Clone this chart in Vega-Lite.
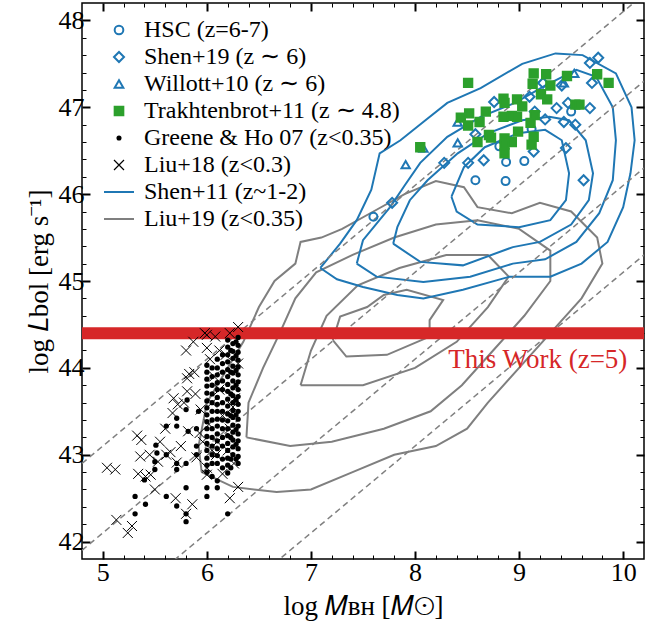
{
"$schema":"https://vega.github.io/schema/vega-lite/v6.json",
"width":562,"height":556,
"autosize":{"type":"none"},
"padding":{"left":82,"top":3,"right":24,"bottom":74},
"background":"white",
"config":{
 "view":{"stroke":"black","strokeWidth":1.5},
 "axis":{"labelFont":"Liberation Serif","labelFontSize":26,"labelColor":"black","titleFont":"Liberation Serif","titleFontSize":27,"titleFontWeight":"normal","titleColor":"black","grid":false,"domain":false,"tickColor":"black"},
 "legend":{"orient":"none","legendX":25,"legendY":15,"labelFont":"Liberation Serif","labelFontSize":24,"labelColor":"black","symbolStrokeWidth":2,"rowPadding":3,"labelOffset":13,"labelLimit":400}
},
"datasets":{
 "pts":[
  {"s":"Greene & Ho 07 (z<0.35)","M":5.31,"L":42.52},{"s":"Greene & Ho 07 (z<0.35)","M":5.31,"L":42.32},{"s":"Greene & Ho 07 (z<0.35)","M":5.41,"L":42.43},{"s":"Greene & Ho 07 (z<0.35)","M":5.4,"L":42.71},{"s":"Greene & Ho 07 (z<0.35)","M":5.5,"L":42.83},{"s":"Greene & Ho 07 (z<0.35)","M":5.51,"L":43.11},{"s":"Greene & Ho 07 (z<0.35)","M":5.52,"L":43.02},{"s":"Greene & Ho 07 (z<0.35)","M":5.5,"L":42.92},{"s":"Greene & Ho 07 (z<0.35)","M":5.61,"L":43.33},{"s":"Greene & Ho 07 (z<0.35)","M":5.61,"L":42.52},{"s":"Greene & Ho 07 (z<0.35)","M":5.71,"L":43.33},{"s":"Greene & Ho 07 (z<0.35)","M":5.71,"L":43.42},{"s":"Greene & Ho 07 (z<0.35)","M":5.71,"L":42.41},{"s":"Greene & Ho 07 (z<0.35)","M":5.8,"L":42.62},{"s":"Greene & Ho 07 (z<0.35)","M":5.8,"L":42.32},{"s":"Greene & Ho 07 (z<0.35)","M":5.8,"L":42.23},{"s":"Greene & Ho 07 (z<0.35)","M":5.71,"L":42.83},{"s":"Greene & Ho 07 (z<0.35)","M":5.81,"L":43.63},{"s":"Greene & Ho 07 (z<0.35)","M":5.8,"L":43.52},{"s":"Greene & Ho 07 (z<0.35)","M":5.82,"L":43.27},{"s":"Greene & Ho 07 (z<0.35)","M":5.8,"L":42.9},{"s":"Greene & Ho 07 (z<0.35)","M":5.9,"L":43.1},{"s":"Greene & Ho 07 (z<0.35)","M":5.9,"L":43.0},{"s":"Greene & Ho 07 (z<0.35)","M":5.9,"L":43.3},{"s":"Greene & Ho 07 (z<0.35)","M":5.92,"L":43.5},{"s":"Greene & Ho 07 (z<0.35)","M":5.61,"L":43.0},{"s":"Greene & Ho 07 (z<0.35)","M":5.71,"L":42.9},
  {"s":"Greene & Ho 07 (z<0.35)","M":6.0,"L":44.03},{"s":"Greene & Ho 07 (z<0.35)","M":6.0,"L":43.95},{"s":"Greene & Ho 07 (z<0.35)","M":6.0,"L":43.87},{"s":"Greene & Ho 07 (z<0.35)","M":6.0,"L":43.79},{"s":"Greene & Ho 07 (z<0.35)","M":6.0,"L":43.71},{"s":"Greene & Ho 07 (z<0.35)","M":6.0,"L":43.62},{"s":"Greene & Ho 07 (z<0.35)","M":6.0,"L":43.54},{"s":"Greene & Ho 07 (z<0.35)","M":6.0,"L":43.46},{"s":"Greene & Ho 07 (z<0.35)","M":6.0,"L":43.38},{"s":"Greene & Ho 07 (z<0.35)","M":6.0,"L":43.3},{"s":"Greene & Ho 07 (z<0.35)","M":6.0,"L":43.21},{"s":"Greene & Ho 07 (z<0.35)","M":6.0,"L":43.13},{"s":"Greene & Ho 07 (z<0.35)","M":6.0,"L":43.05},{"s":"Greene & Ho 07 (z<0.35)","M":6.0,"L":42.96},{"s":"Greene & Ho 07 (z<0.35)","M":6.0,"L":42.88},{"s":"Greene & Ho 07 (z<0.35)","M":6.0,"L":42.8},{"s":"Greene & Ho 07 (z<0.35)","M":6.0,"L":42.62},{"s":"Greene & Ho 07 (z<0.35)","M":6.0,"L":42.52},
  {"s":"Greene & Ho 07 (z<0.35)","M":6.05,"L":44.0},{"s":"Greene & Ho 07 (z<0.35)","M":6.05,"L":43.9},{"s":"Greene & Ho 07 (z<0.35)","M":6.05,"L":43.8},{"s":"Greene & Ho 07 (z<0.35)","M":6.05,"L":43.7},{"s":"Greene & Ho 07 (z<0.35)","M":6.05,"L":43.6},{"s":"Greene & Ho 07 (z<0.35)","M":6.05,"L":43.5},{"s":"Greene & Ho 07 (z<0.35)","M":6.05,"L":43.4},{"s":"Greene & Ho 07 (z<0.35)","M":6.05,"L":43.3},{"s":"Greene & Ho 07 (z<0.35)","M":6.05,"L":43.2},{"s":"Greene & Ho 07 (z<0.35)","M":6.05,"L":43.1},{"s":"Greene & Ho 07 (z<0.35)","M":6.05,"L":43.0},{"s":"Greene & Ho 07 (z<0.35)","M":6.05,"L":42.9},{"s":"Greene & Ho 07 (z<0.35)","M":6.05,"L":42.75},
  {"s":"Greene & Ho 07 (z<0.35)","M":6.1,"L":44.1},{"s":"Greene & Ho 07 (z<0.35)","M":6.1,"L":44.0},{"s":"Greene & Ho 07 (z<0.35)","M":6.1,"L":43.92},{"s":"Greene & Ho 07 (z<0.35)","M":6.1,"L":43.83},{"s":"Greene & Ho 07 (z<0.35)","M":6.1,"L":43.75},{"s":"Greene & Ho 07 (z<0.35)","M":6.1,"L":43.66},{"s":"Greene & Ho 07 (z<0.35)","M":6.1,"L":43.58},{"s":"Greene & Ho 07 (z<0.35)","M":6.1,"L":43.5},{"s":"Greene & Ho 07 (z<0.35)","M":6.1,"L":43.41},{"s":"Greene & Ho 07 (z<0.35)","M":6.1,"L":43.33},{"s":"Greene & Ho 07 (z<0.35)","M":6.1,"L":43.24},{"s":"Greene & Ho 07 (z<0.35)","M":6.1,"L":43.16},{"s":"Greene & Ho 07 (z<0.35)","M":6.1,"L":43.07},{"s":"Greene & Ho 07 (z<0.35)","M":6.1,"L":42.99},{"s":"Greene & Ho 07 (z<0.35)","M":6.1,"L":42.9},{"s":"Greene & Ho 07 (z<0.35)","M":6.1,"L":42.7},{"s":"Greene & Ho 07 (z<0.35)","M":6.1,"L":42.62},
  {"s":"Greene & Ho 07 (z<0.35)","M":6.15,"L":44.15},{"s":"Greene & Ho 07 (z<0.35)","M":6.15,"L":44.05},{"s":"Greene & Ho 07 (z<0.35)","M":6.15,"L":43.95},{"s":"Greene & Ho 07 (z<0.35)","M":6.15,"L":43.85},{"s":"Greene & Ho 07 (z<0.35)","M":6.15,"L":43.75},{"s":"Greene & Ho 07 (z<0.35)","M":6.15,"L":43.6},{"s":"Greene & Ho 07 (z<0.35)","M":6.15,"L":43.5},{"s":"Greene & Ho 07 (z<0.35)","M":6.15,"L":43.4},{"s":"Greene & Ho 07 (z<0.35)","M":6.15,"L":43.3},{"s":"Greene & Ho 07 (z<0.35)","M":6.15,"L":43.2},{"s":"Greene & Ho 07 (z<0.35)","M":6.15,"L":43.1},{"s":"Greene & Ho 07 (z<0.35)","M":6.15,"L":42.95},{"s":"Greene & Ho 07 (z<0.35)","M":6.15,"L":42.85},
  {"s":"Greene & Ho 07 (z<0.35)","M":6.2,"L":44.32},{"s":"Greene & Ho 07 (z<0.35)","M":6.2,"L":44.24},{"s":"Greene & Ho 07 (z<0.35)","M":6.2,"L":44.15},{"s":"Greene & Ho 07 (z<0.35)","M":6.2,"L":44.07},{"s":"Greene & Ho 07 (z<0.35)","M":6.2,"L":43.98},{"s":"Greene & Ho 07 (z<0.35)","M":6.2,"L":43.9},{"s":"Greene & Ho 07 (z<0.35)","M":6.2,"L":43.81},{"s":"Greene & Ho 07 (z<0.35)","M":6.2,"L":43.73},{"s":"Greene & Ho 07 (z<0.35)","M":6.2,"L":43.64},{"s":"Greene & Ho 07 (z<0.35)","M":6.2,"L":43.56},{"s":"Greene & Ho 07 (z<0.35)","M":6.2,"L":43.47},{"s":"Greene & Ho 07 (z<0.35)","M":6.2,"L":43.39},{"s":"Greene & Ho 07 (z<0.35)","M":6.2,"L":43.3},{"s":"Greene & Ho 07 (z<0.35)","M":6.2,"L":43.22},{"s":"Greene & Ho 07 (z<0.35)","M":6.2,"L":43.13},{"s":"Greene & Ho 07 (z<0.35)","M":6.2,"L":43.05},{"s":"Greene & Ho 07 (z<0.35)","M":6.2,"L":42.96},{"s":"Greene & Ho 07 (z<0.35)","M":6.2,"L":42.88},{"s":"Greene & Ho 07 (z<0.35)","M":6.2,"L":42.79},{"s":"Greene & Ho 07 (z<0.35)","M":6.2,"L":42.32},
  {"s":"Greene & Ho 07 (z<0.35)","M":6.23,"L":44.2},{"s":"Greene & Ho 07 (z<0.35)","M":6.23,"L":43.95},{"s":"Greene & Ho 07 (z<0.35)","M":6.23,"L":43.7},{"s":"Greene & Ho 07 (z<0.35)","M":6.23,"L":43.45},{"s":"Greene & Ho 07 (z<0.35)","M":6.23,"L":43.2},{"s":"Greene & Ho 07 (z<0.35)","M":6.23,"L":42.95},{"s":"Greene & Ho 07 (z<0.35)","M":6.23,"L":42.85},
  {"s":"Greene & Ho 07 (z<0.35)","M":6.25,"L":44.28},{"s":"Greene & Ho 07 (z<0.35)","M":6.25,"L":44.19},{"s":"Greene & Ho 07 (z<0.35)","M":6.25,"L":44.11},{"s":"Greene & Ho 07 (z<0.35)","M":6.25,"L":44.02},{"s":"Greene & Ho 07 (z<0.35)","M":6.25,"L":43.94},{"s":"Greene & Ho 07 (z<0.35)","M":6.25,"L":43.85},{"s":"Greene & Ho 07 (z<0.35)","M":6.25,"L":43.77},{"s":"Greene & Ho 07 (z<0.35)","M":6.25,"L":43.68},{"s":"Greene & Ho 07 (z<0.35)","M":6.25,"L":43.6},{"s":"Greene & Ho 07 (z<0.35)","M":6.25,"L":43.51},{"s":"Greene & Ho 07 (z<0.35)","M":6.25,"L":43.43},{"s":"Greene & Ho 07 (z<0.35)","M":6.25,"L":43.34},{"s":"Greene & Ho 07 (z<0.35)","M":6.25,"L":43.26},{"s":"Greene & Ho 07 (z<0.35)","M":6.25,"L":43.17},{"s":"Greene & Ho 07 (z<0.35)","M":6.25,"L":43.09},{"s":"Greene & Ho 07 (z<0.35)","M":6.25,"L":43.0},
  {"s":"Greene & Ho 07 (z<0.35)","M":6.28,"L":44.3},{"s":"Greene & Ho 07 (z<0.35)","M":6.28,"L":44.14},{"s":"Greene & Ho 07 (z<0.35)","M":6.28,"L":43.97},{"s":"Greene & Ho 07 (z<0.35)","M":6.28,"L":43.8},{"s":"Greene & Ho 07 (z<0.35)","M":6.28,"L":43.63},{"s":"Greene & Ho 07 (z<0.35)","M":6.28,"L":43.46},{"s":"Greene & Ho 07 (z<0.35)","M":6.28,"L":43.29},{"s":"Greene & Ho 07 (z<0.35)","M":6.28,"L":43.12},{"s":"Greene & Ho 07 (z<0.35)","M":6.28,"L":42.95},
  {"s":"Greene & Ho 07 (z<0.35)","M":6.3,"L":44.35},{"s":"Greene & Ho 07 (z<0.35)","M":6.3,"L":44.26},{"s":"Greene & Ho 07 (z<0.35)","M":6.3,"L":44.18},{"s":"Greene & Ho 07 (z<0.35)","M":6.3,"L":44.09},{"s":"Greene & Ho 07 (z<0.35)","M":6.3,"L":44.01},{"s":"Greene & Ho 07 (z<0.35)","M":6.3,"L":43.92},{"s":"Greene & Ho 07 (z<0.35)","M":6.3,"L":43.84},{"s":"Greene & Ho 07 (z<0.35)","M":6.3,"L":43.75},{"s":"Greene & Ho 07 (z<0.35)","M":6.3,"L":43.67},{"s":"Greene & Ho 07 (z<0.35)","M":6.3,"L":43.58},{"s":"Greene & Ho 07 (z<0.35)","M":6.3,"L":43.5},{"s":"Greene & Ho 07 (z<0.35)","M":6.3,"L":43.41},{"s":"Greene & Ho 07 (z<0.35)","M":6.3,"L":43.33},{"s":"Greene & Ho 07 (z<0.35)","M":6.3,"L":43.24},{"s":"Greene & Ho 07 (z<0.35)","M":6.3,"L":43.16},{"s":"Greene & Ho 07 (z<0.35)","M":6.3,"L":43.07},{"s":"Greene & Ho 07 (z<0.35)","M":6.3,"L":42.98},{"s":"Greene & Ho 07 (z<0.35)","M":6.3,"L":42.9},
  {"s":"Liu+18 (z<0.3)","M":5.04,"L":42.85},{"s":"Liu+18 (z<0.3)","M":5.12,"L":42.83},{"s":"Liu+18 (z<0.3)","M":5.13,"L":42.25},{"s":"Liu+18 (z<0.3)","M":5.24,"L":42.1},{"s":"Liu+18 (z<0.3)","M":5.28,"L":42.18},{"s":"Liu+18 (z<0.3)","M":5.33,"L":43.22},{"s":"Liu+18 (z<0.3)","M":5.37,"L":43.17},{"s":"Liu+18 (z<0.3)","M":5.36,"L":42.98},{"s":"Liu+18 (z<0.3)","M":5.34,"L":42.78},{"s":"Liu+18 (z<0.3)","M":5.41,"L":42.75},{"s":"Liu+18 (z<0.3)","M":5.46,"L":42.77},{"s":"Liu+18 (z<0.3)","M":5.5,"L":42.6},{"s":"Liu+18 (z<0.3)","M":5.53,"L":42.92},{"s":"Liu+18 (z<0.3)","M":5.61,"L":43.0},{"s":"Liu+18 (z<0.3)","M":5.65,"L":43.03},{"s":"Liu+18 (z<0.3)","M":5.71,"L":42.91},{"s":"Liu+18 (z<0.3)","M":5.7,"L":42.5},{"s":"Liu+18 (z<0.3)","M":5.8,"L":42.32},{"s":"Liu+18 (z<0.3)","M":5.86,"L":42.43},{"s":"Liu+18 (z<0.3)","M":5.6,"L":43.3},{"s":"Liu+18 (z<0.3)","M":5.67,"L":43.48},{"s":"Liu+18 (z<0.3)","M":5.72,"L":43.58},{"s":"Liu+18 (z<0.3)","M":5.78,"L":43.6},{"s":"Liu+18 (z<0.3)","M":5.81,"L":43.88},{"s":"Liu+18 (z<0.3)","M":5.83,"L":43.93},{"s":"Liu+18 (z<0.3)","M":5.88,"L":43.95},{"s":"Liu+18 (z<0.3)","M":5.8,"L":44.2},{"s":"Liu+18 (z<0.3)","M":5.87,"L":44.3},{"s":"Liu+18 (z<0.3)","M":5.81,"L":43.73},{"s":"Liu+18 (z<0.3)","M":5.82,"L":43.27},{"s":"Liu+18 (z<0.3)","M":5.89,"L":43.7},{"s":"Liu+18 (z<0.3)","M":5.94,"L":43.52},{"s":"Liu+18 (z<0.3)","M":5.93,"L":43.25},{"s":"Liu+18 (z<0.3)","M":5.9,"L":42.97},{"s":"Liu+18 (z<0.3)","M":5.98,"L":44.4},{"s":"Liu+18 (z<0.3)","M":6.0,"L":44.38},{"s":"Liu+18 (z<0.3)","M":6.08,"L":44.36},{"s":"Liu+18 (z<0.3)","M":6.22,"L":44.4},{"s":"Liu+18 (z<0.3)","M":6.3,"L":44.47},{"s":"Liu+18 (z<0.3)","M":6.0,"L":44.23},{"s":"Liu+18 (z<0.3)","M":6.03,"L":44.1},{"s":"Liu+18 (z<0.3)","M":6.07,"L":43.9},{"s":"Liu+18 (z<0.3)","M":6.12,"L":43.75},{"s":"Liu+18 (z<0.3)","M":6.05,"L":43.6},{"s":"Liu+18 (z<0.3)","M":6.15,"L":43.45},{"s":"Liu+18 (z<0.3)","M":6.02,"L":43.35},{"s":"Liu+18 (z<0.3)","M":6.1,"L":43.15},{"s":"Liu+18 (z<0.3)","M":6.2,"L":43.05},{"s":"Liu+18 (z<0.3)","M":6.25,"L":43.55},{"s":"Liu+18 (z<0.3)","M":6.28,"L":43.8},{"s":"Liu+18 (z<0.3)","M":6.18,"L":44.15},{"s":"Liu+18 (z<0.3)","M":6.3,"L":44.05},{"s":"Liu+18 (z<0.3)","M":6.22,"L":43.3},{"s":"Liu+18 (z<0.3)","M":6.05,"L":43.05},{"s":"Liu+18 (z<0.3)","M":6.0,"L":42.85},{"s":"Liu+18 (z<0.3)","M":6.15,"L":42.78},{"s":"Liu+18 (z<0.3)","M":6.22,"L":42.5},{"s":"Liu+18 (z<0.3)","M":6.3,"L":42.63},{"s":"Liu+18 (z<0.3)","M":6.09,"L":43.0},{"s":"Liu+18 (z<0.3)","M":6.0,"L":42.77},{"s":"Liu+18 (z<0.3)","M":6.27,"L":43.65},{"s":"Liu+18 (z<0.3)","M":6.12,"L":44.2},{"s":"Liu+18 (z<0.3)","M":5.96,"L":43.15},{"s":"Liu+18 (z<0.3)","M":6.26,"L":42.9},{"s":"Liu+18 (z<0.3)","M":5.75,"L":43.1},{"s":"Liu+18 (z<0.3)","M":5.55,"L":43.15},{"s":"Liu+18 (z<0.3)","M":5.45,"L":43.0},{"s":"Liu+18 (z<0.3)","M":5.68,"L":43.65},
  {"s":"HSC (z=6-7)","M":8.875,"L":46.37},{"s":"HSC (z=6-7)","M":9.05,"L":46.38},{"s":"HSC (z=6-7)","M":8.58,"L":46.16},{"s":"HSC (z=6-7)","M":8.87,"L":46.15},{"s":"HSC (z=6-7)","M":8.81,"L":46.55},{"s":"HSC (z=6-7)","M":9.5,"L":46.95},{"s":"HSC (z=6-7)","M":9.12,"L":46.75},{"s":"HSC (z=6-7)","M":7.6,"L":45.74},
  {"s":"Shen+19 (z ∼ 6)","M":9.76,"L":47.57},{"s":"Shen+19 (z ∼ 6)","M":9.68,"L":47.51},{"s":"Shen+19 (z ∼ 6)","M":9.7,"L":47.28},{"s":"Shen+19 (z ∼ 6)","M":9.47,"L":47.05},{"s":"Shen+19 (z ∼ 6)","M":9.68,"L":46.99},{"s":"Shen+19 (z ∼ 6)","M":9.36,"L":46.99},{"s":"Shen+19 (z ∼ 6)","M":9.25,"L":46.86},{"s":"Shen+19 (z ∼ 6)","M":9.43,"L":46.83},{"s":"Shen+19 (z ∼ 6)","M":9.54,"L":46.8},{"s":"Shen+19 (z ∼ 6)","M":9.1,"L":47.12},{"s":"Shen+19 (z ∼ 6)","M":8.76,"L":47.06},{"s":"Shen+19 (z ∼ 6)","M":8.58,"L":46.69},{"s":"Shen+19 (z ∼ 6)","M":8.28,"L":46.36},{"s":"Shen+19 (z ∼ 6)","M":8.51,"L":46.36},{"s":"Shen+19 (z ∼ 6)","M":8.66,"L":46.39},{"s":"Shen+19 (z ∼ 6)","M":9.14,"L":46.49},{"s":"Shen+19 (z ∼ 6)","M":9.45,"L":46.53},{"s":"Shen+19 (z ∼ 6)","M":9.62,"L":46.16},{"s":"Shen+19 (z ∼ 6)","M":7.78,"L":45.9},{"s":"Shen+19 (z ∼ 6)","M":9.15,"L":46.95},{"s":"Shen+19 (z ∼ 6)","M":9.23,"L":47.28},{"s":"Shen+19 (z ∼ 6)","M":9.41,"L":47.25},
  {"s":"Willott+10 (z ∼ 6)","M":7.91,"L":46.34},{"s":"Willott+10 (z ∼ 6)","M":8.08,"L":46.53},{"s":"Willott+10 (z ∼ 6)","M":8.41,"L":46.59},{"s":"Willott+10 (z ∼ 6)","M":8.41,"L":46.83},{"s":"Willott+10 (z ∼ 6)","M":9.53,"L":47.39},{"s":"Willott+10 (z ∼ 6)","M":9.43,"L":47.28},
  {"s":"Trakhtenbrot+11 (z ∼ 4.8)","M":8.51,"L":47.28},{"s":"Trakhtenbrot+11 (z ∼ 4.8)","M":9.14,"L":47.39},{"s":"Trakhtenbrot+11 (z ∼ 4.8)","M":9.26,"L":47.38},{"s":"Trakhtenbrot+11 (z ∼ 4.8)","M":9.46,"L":47.36},{"s":"Trakhtenbrot+11 (z ∼ 4.8)","M":9.75,"L":47.38},{"s":"Trakhtenbrot+11 (z ∼ 4.8)","M":9.86,"L":47.28},{"s":"Trakhtenbrot+11 (z ∼ 4.8)","M":9.13,"L":47.27},{"s":"Trakhtenbrot+11 (z ∼ 4.8)","M":9.3,"L":47.25},{"s":"Trakhtenbrot+11 (z ∼ 4.8)","M":9.21,"L":47.15},{"s":"Trakhtenbrot+11 (z ∼ 4.8)","M":9.27,"L":47.09},{"s":"Trakhtenbrot+11 (z ∼ 4.8)","M":8.85,"L":47.1},{"s":"Trakhtenbrot+11 (z ∼ 4.8)","M":8.98,"L":47.09},{"s":"Trakhtenbrot+11 (z ∼ 4.8)","M":9.03,"L":47.01},{"s":"Trakhtenbrot+11 (z ∼ 4.8)","M":8.85,"L":46.89},{"s":"Trakhtenbrot+11 (z ∼ 4.8)","M":8.93,"L":46.9},{"s":"Trakhtenbrot+11 (z ∼ 4.8)","M":8.98,"L":46.89},{"s":"Trakhtenbrot+11 (z ∼ 4.8)","M":9.15,"L":46.91},{"s":"Trakhtenbrot+11 (z ∼ 4.8)","M":9.11,"L":46.82},{"s":"Trakhtenbrot+11 (z ∼ 4.8)","M":8.52,"L":46.93},{"s":"Trakhtenbrot+11 (z ∼ 4.8)","M":8.44,"L":46.88},{"s":"Trakhtenbrot+11 (z ∼ 4.8)","M":8.51,"L":46.79},{"s":"Trakhtenbrot+11 (z ∼ 4.8)","M":8.62,"L":46.83},{"s":"Trakhtenbrot+11 (z ∼ 4.8)","M":8.68,"L":46.95},{"s":"Trakhtenbrot+11 (z ∼ 4.8)","M":8.71,"L":46.68},{"s":"Trakhtenbrot+11 (z ∼ 4.8)","M":8.73,"L":46.65},{"s":"Trakhtenbrot+11 (z ∼ 4.8)","M":8.6,"L":46.6},{"s":"Trakhtenbrot+11 (z ∼ 4.8)","M":8.86,"L":46.64},{"s":"Trakhtenbrot+11 (z ∼ 4.8)","M":8.93,"L":46.6},{"s":"Trakhtenbrot+11 (z ∼ 4.8)","M":8.99,"L":46.72},{"s":"Trakhtenbrot+11 (z ∼ 4.8)","M":9.14,"L":46.66},{"s":"Trakhtenbrot+11 (z ∼ 4.8)","M":9.12,"L":46.57},{"s":"Trakhtenbrot+11 (z ∼ 4.8)","M":8.86,"L":46.47},{"s":"Trakhtenbrot+11 (z ∼ 4.8)","M":8.05,"L":46.54},{"s":"Trakhtenbrot+11 (z ∼ 4.8)","M":9.54,"L":47.03},{"s":"Trakhtenbrot+11 (z ∼ 4.8)","M":9.58,"L":47.03},{"s":"Trakhtenbrot+11 (z ∼ 4.8)","M":8.86,"L":47.05},{"s":"Trakhtenbrot+11 (z ∼ 4.8)","M":8.86,"L":46.57}
 ],
 "contours":[
  {"s":"Liu+19 (z<0.35)","c":"g1","o":0,"M":5.95,"L":42.8},{"s":"Liu+19 (z<0.35)","c":"g1","o":1,"M":5.92,"L":43.1},{"s":"Liu+19 (z<0.35)","c":"g1","o":2,"M":6.0,"L":43.6},{"s":"Liu+19 (z<0.35)","c":"g1","o":3,"M":6.2,"L":44.0},{"s":"Liu+19 (z<0.35)","c":"g1","o":4,"M":6.35,"L":44.3},{"s":"Liu+19 (z<0.35)","c":"g1","o":5,"M":6.5,"L":44.7},{"s":"Liu+19 (z<0.35)","c":"g1","o":6,"M":6.65,"L":45.0},{"s":"Liu+19 (z<0.35)","c":"g1","o":7,"M":6.85,"L":45.2},{"s":"Liu+19 (z<0.35)","c":"g1","o":8,"M":6.9,"L":45.45},{"s":"Liu+19 (z<0.35)","c":"g1","o":9,"M":7.1,"L":45.5},{"s":"Liu+19 (z<0.35)","c":"g1","o":10,"M":7.3,"L":45.6},{"s":"Liu+19 (z<0.35)","c":"g1","o":11,"M":7.6,"L":45.8},{"s":"Liu+19 (z<0.35)","c":"g1","o":12,"M":7.9,"L":46.0},{"s":"Liu+19 (z<0.35)","c":"g1","o":13,"M":8.2,"L":46.15},{"s":"Liu+19 (z<0.35)","c":"g1","o":14,"M":8.47,"L":46.08},{"s":"Liu+19 (z<0.35)","c":"g1","o":15,"M":8.6,"L":45.85},{"s":"Liu+19 (z<0.35)","c":"g1","o":16,"M":8.93,"L":45.78},{"s":"Liu+19 (z<0.35)","c":"g1","o":17,"M":9.2,"L":45.9},{"s":"Liu+19 (z<0.35)","c":"g1","o":18,"M":9.5,"L":45.8},{"s":"Liu+19 (z<0.35)","c":"g1","o":19,"M":9.75,"L":45.5},{"s":"Liu+19 (z<0.35)","c":"g1","o":20,"M":9.8,"L":45.2},{"s":"Liu+19 (z<0.35)","c":"g1","o":21,"M":9.6,"L":44.8},{"s":"Liu+19 (z<0.35)","c":"g1","o":22,"M":9.3,"L":44.4},{"s":"Liu+19 (z<0.35)","c":"g1","o":23,"M":9.0,"L":44.0},{"s":"Liu+19 (z<0.35)","c":"g1","o":24,"M":8.7,"L":43.6},{"s":"Liu+19 (z<0.35)","c":"g1","o":25,"M":8.5,"L":43.3},{"s":"Liu+19 (z<0.35)","c":"g1","o":26,"M":8.2,"L":43.1},{"s":"Liu+19 (z<0.35)","c":"g1","o":27,"M":7.8,"L":43.0},{"s":"Liu+19 (z<0.35)","c":"g1","o":28,"M":7.4,"L":42.8},{"s":"Liu+19 (z<0.35)","c":"g1","o":29,"M":7.0,"L":42.6},{"s":"Liu+19 (z<0.35)","c":"g1","o":30,"M":6.67,"L":42.57},{"s":"Liu+19 (z<0.35)","c":"g1","o":31,"M":6.25,"L":42.63},{"s":"Liu+19 (z<0.35)","c":"g1","o":32,"M":5.95,"L":42.8},
  {"s":"Liu+19 (z<0.35)","c":"g2","o":0,"M":6.38,"L":43.2},{"s":"Liu+19 (z<0.35)","c":"g2","o":1,"M":6.4,"L":43.6},{"s":"Liu+19 (z<0.35)","c":"g2","o":2,"M":6.54,"L":44.0},{"s":"Liu+19 (z<0.35)","c":"g2","o":3,"M":6.7,"L":44.4},{"s":"Liu+19 (z<0.35)","c":"g2","o":4,"M":6.85,"L":44.8},{"s":"Liu+19 (z<0.35)","c":"g2","o":5,"M":7.05,"L":45.1},{"s":"Liu+19 (z<0.35)","c":"g2","o":6,"M":7.4,"L":45.3},{"s":"Liu+19 (z<0.35)","c":"g2","o":7,"M":7.8,"L":45.5},{"s":"Liu+19 (z<0.35)","c":"g2","o":8,"M":8.2,"L":45.65},{"s":"Liu+19 (z<0.35)","c":"g2","o":9,"M":8.6,"L":45.7},{"s":"Liu+19 (z<0.35)","c":"g2","o":10,"M":9.0,"L":45.6},{"s":"Liu+19 (z<0.35)","c":"g2","o":11,"M":9.3,"L":45.35},{"s":"Liu+19 (z<0.35)","c":"g2","o":12,"M":9.3,"L":45.0},{"s":"Liu+19 (z<0.35)","c":"g2","o":13,"M":9.05,"L":44.6},{"s":"Liu+19 (z<0.35)","c":"g2","o":14,"M":8.75,"L":44.2},{"s":"Liu+19 (z<0.35)","c":"g2","o":15,"M":8.45,"L":43.8},{"s":"Liu+19 (z<0.35)","c":"g2","o":16,"M":8.15,"L":43.5},{"s":"Liu+19 (z<0.35)","c":"g2","o":17,"M":7.7,"L":43.3},{"s":"Liu+19 (z<0.35)","c":"g2","o":18,"M":7.2,"L":43.15},{"s":"Liu+19 (z<0.35)","c":"g2","o":19,"M":6.8,"L":43.1},{"s":"Liu+19 (z<0.35)","c":"g2","o":20,"M":6.38,"L":43.2},
  {"s":"Liu+19 (z<0.35)","c":"g3","o":0,"M":6.9,"L":43.8},{"s":"Liu+19 (z<0.35)","c":"g3","o":1,"M":7.0,"L":44.2},{"s":"Liu+19 (z<0.35)","c":"g3","o":2,"M":7.15,"L":44.6},{"s":"Liu+19 (z<0.35)","c":"g3","o":3,"M":7.45,"L":44.95},{"s":"Liu+19 (z<0.35)","c":"g3","o":4,"M":7.85,"L":45.15},{"s":"Liu+19 (z<0.35)","c":"g3","o":5,"M":8.3,"L":45.3},{"s":"Liu+19 (z<0.35)","c":"g3","o":6,"M":8.7,"L":45.3},{"s":"Liu+19 (z<0.35)","c":"g3","o":7,"M":8.9,"L":45.05},{"s":"Liu+19 (z<0.35)","c":"g3","o":8,"M":8.7,"L":44.7},{"s":"Liu+19 (z<0.35)","c":"g3","o":9,"M":8.4,"L":44.3},{"s":"Liu+19 (z<0.35)","c":"g3","o":10,"M":8.0,"L":44.0},{"s":"Liu+19 (z<0.35)","c":"g3","o":11,"M":7.5,"L":43.8},{"s":"Liu+19 (z<0.35)","c":"g3","o":12,"M":6.9,"L":43.8},
  {"s":"Liu+19 (z<0.35)","c":"g4","o":0,"M":7.21,"L":44.32},{"s":"Liu+19 (z<0.35)","c":"g4","o":1,"M":7.28,"L":44.59},{"s":"Liu+19 (z<0.35)","c":"g4","o":2,"M":7.54,"L":44.7},{"s":"Liu+19 (z<0.35)","c":"g4","o":3,"M":7.7,"L":44.84},{"s":"Liu+19 (z<0.35)","c":"g4","o":4,"M":7.92,"L":44.9},{"s":"Liu+19 (z<0.35)","c":"g4","o":5,"M":8.27,"L":44.78},{"s":"Liu+19 (z<0.35)","c":"g4","o":6,"M":8.14,"L":44.55},{"s":"Liu+19 (z<0.35)","c":"g4","o":7,"M":8.14,"L":44.36},{"s":"Liu+19 (z<0.35)","c":"g4","o":8,"M":7.73,"L":44.15},{"s":"Liu+19 (z<0.35)","c":"g4","o":9,"M":7.34,"L":44.13},{"s":"Liu+19 (z<0.35)","c":"g4","o":10,"M":7.21,"L":44.32},
  {"s":"Shen+11 (z~1-2)","c":"b1","o":0,"M":7.09,"L":45.15},{"s":"Shen+11 (z~1-2)","c":"b1","o":1,"M":7.28,"L":45.43},{"s":"Shen+11 (z~1-2)","c":"b1","o":2,"M":7.44,"L":45.7},{"s":"Shen+11 (z~1-2)","c":"b1","o":3,"M":7.58,"L":46.05},{"s":"Shen+11 (z~1-2)","c":"b1","o":4,"M":7.66,"L":46.47},{"s":"Shen+11 (z~1-2)","c":"b1","o":5,"M":7.86,"L":46.62},{"s":"Shen+11 (z~1-2)","c":"b1","o":6,"M":8.1,"L":46.85},{"s":"Shen+11 (z~1-2)","c":"b1","o":7,"M":8.31,"L":47.05},{"s":"Shen+11 (z~1-2)","c":"b1","o":8,"M":8.63,"L":47.22},{"s":"Shen+11 (z~1-2)","c":"b1","o":9,"M":9.03,"L":47.5},{"s":"Shen+11 (z~1-2)","c":"b1","o":10,"M":9.35,"L":47.62},{"s":"Shen+11 (z~1-2)","c":"b1","o":11,"M":9.61,"L":47.6},{"s":"Shen+11 (z~1-2)","c":"b1","o":12,"M":9.93,"L":47.39},{"s":"Shen+11 (z~1-2)","c":"b1","o":13,"M":10.08,"L":47.0},{"s":"Shen+11 (z~1-2)","c":"b1","o":14,"M":10.11,"L":46.62},{"s":"Shen+11 (z~1-2)","c":"b1","o":15,"M":10.07,"L":46.24},{"s":"Shen+11 (z~1-2)","c":"b1","o":16,"M":10.0,"L":45.85},{"s":"Shen+11 (z~1-2)","c":"b1","o":17,"M":9.85,"L":45.45},{"s":"Shen+11 (z~1-2)","c":"b1","o":18,"M":9.6,"L":45.2},{"s":"Shen+11 (z~1-2)","c":"b1","o":19,"M":9.3,"L":45.05},{"s":"Shen+11 (z~1-2)","c":"b1","o":20,"M":8.91,"L":45.05},{"s":"Shen+11 (z~1-2)","c":"b1","o":21,"M":8.46,"L":44.9},{"s":"Shen+11 (z~1-2)","c":"b1","o":22,"M":8.08,"L":44.8},{"s":"Shen+11 (z~1-2)","c":"b1","o":23,"M":7.83,"L":44.84},{"s":"Shen+11 (z~1-2)","c":"b1","o":24,"M":7.5,"L":44.93},{"s":"Shen+11 (z~1-2)","c":"b1","o":25,"M":7.25,"L":45.02},{"s":"Shen+11 (z~1-2)","c":"b1","o":26,"M":7.09,"L":45.15},
  {"s":"Shen+11 (z~1-2)","c":"b2","o":0,"M":7.44,"L":45.2},{"s":"Shen+11 (z~1-2)","c":"b2","o":1,"M":7.5,"L":45.47},{"s":"Shen+11 (z~1-2)","c":"b2","o":2,"M":7.76,"L":45.85},{"s":"Shen+11 (z~1-2)","c":"b2","o":3,"M":7.9,"L":46.1},{"s":"Shen+11 (z~1-2)","c":"b2","o":4,"M":8.05,"L":46.36},{"s":"Shen+11 (z~1-2)","c":"b2","o":5,"M":8.31,"L":46.66},{"s":"Shen+11 (z~1-2)","c":"b2","o":6,"M":8.63,"L":46.89},{"s":"Shen+11 (z~1-2)","c":"b2","o":7,"M":8.96,"L":47.05},{"s":"Shen+11 (z~1-2)","c":"b2","o":8,"M":9.25,"L":47.25},{"s":"Shen+11 (z~1-2)","c":"b2","o":9,"M":9.55,"L":47.43},{"s":"Shen+11 (z~1-2)","c":"b2","o":10,"M":9.74,"L":47.35},{"s":"Shen+11 (z~1-2)","c":"b2","o":11,"M":9.9,"L":47.0},{"s":"Shen+11 (z~1-2)","c":"b2","o":12,"M":9.93,"L":46.62},{"s":"Shen+11 (z~1-2)","c":"b2","o":13,"M":9.9,"L":46.16},{"s":"Shen+11 (z~1-2)","c":"b2","o":14,"M":9.77,"L":45.78},{"s":"Shen+11 (z~1-2)","c":"b2","o":15,"M":9.55,"L":45.45},{"s":"Shen+11 (z~1-2)","c":"b2","o":16,"M":9.25,"L":45.25},{"s":"Shen+11 (z~1-2)","c":"b2","o":17,"M":8.94,"L":45.2},{"s":"Shen+11 (z~1-2)","c":"b2","o":18,"M":8.53,"L":45.05},{"s":"Shen+11 (z~1-2)","c":"b2","o":19,"M":8.08,"L":44.99},{"s":"Shen+11 (z~1-2)","c":"b2","o":20,"M":7.63,"L":45.05},{"s":"Shen+11 (z~1-2)","c":"b2","o":21,"M":7.44,"L":45.2},
  {"s":"Shen+11 (z~1-2)","c":"b3","o":0,"M":7.79,"L":45.43},{"s":"Shen+11 (z~1-2)","c":"b3","o":1,"M":7.83,"L":45.62},{"s":"Shen+11 (z~1-2)","c":"b3","o":2,"M":7.95,"L":45.93},{"s":"Shen+11 (z~1-2)","c":"b3","o":3,"M":8.12,"L":46.16},{"s":"Shen+11 (z~1-2)","c":"b3","o":4,"M":8.41,"L":46.47},{"s":"Shen+11 (z~1-2)","c":"b3","o":5,"M":8.7,"L":46.7},{"s":"Shen+11 (z~1-2)","c":"b3","o":6,"M":9.03,"L":46.85},{"s":"Shen+11 (z~1-2)","c":"b3","o":7,"M":9.29,"L":46.89},{"s":"Shen+11 (z~1-2)","c":"b3","o":8,"M":9.48,"L":46.85},{"s":"Shen+11 (z~1-2)","c":"b3","o":9,"M":9.64,"L":46.62},{"s":"Shen+11 (z~1-2)","c":"b3","o":10,"M":9.71,"L":46.24},{"s":"Shen+11 (z~1-2)","c":"b3","o":11,"M":9.67,"L":45.93},{"s":"Shen+11 (z~1-2)","c":"b3","o":12,"M":9.5,"L":45.65},{"s":"Shen+11 (z~1-2)","c":"b3","o":13,"M":9.2,"L":45.45},{"s":"Shen+11 (z~1-2)","c":"b3","o":14,"M":8.94,"L":45.39},{"s":"Shen+11 (z~1-2)","c":"b3","o":15,"M":8.46,"L":45.18},{"s":"Shen+11 (z~1-2)","c":"b3","o":16,"M":8.05,"L":45.22},{"s":"Shen+11 (z~1-2)","c":"b3","o":17,"M":7.79,"L":45.43},
  {"s":"Shen+11 (z~1-2)","c":"b4","o":0,"M":8.35,"L":45.97},{"s":"Shen+11 (z~1-2)","c":"b4","o":1,"M":8.47,"L":46.31},{"s":"Shen+11 (z~1-2)","c":"b4","o":2,"M":8.67,"L":46.54},{"s":"Shen+11 (z~1-2)","c":"b4","o":3,"M":8.99,"L":46.7},{"s":"Shen+11 (z~1-2)","c":"b4","o":4,"M":9.25,"L":46.74},{"s":"Shen+11 (z~1-2)","c":"b4","o":5,"M":9.41,"L":46.62},{"s":"Shen+11 (z~1-2)","c":"b4","o":6,"M":9.48,"L":46.24},{"s":"Shen+11 (z~1-2)","c":"b4","o":7,"M":9.45,"L":45.93},{"s":"Shen+11 (z~1-2)","c":"b4","o":8,"M":9.3,"L":45.7},{"s":"Shen+11 (z~1-2)","c":"b4","o":9,"M":9.0,"L":45.62},{"s":"Shen+11 (z~1-2)","c":"b4","o":10,"M":8.6,"L":45.65},{"s":"Shen+11 (z~1-2)","c":"b4","o":11,"M":8.4,"L":45.8},{"s":"Shen+11 (z~1-2)","c":"b4","o":12,"M":8.35,"L":45.97}
 ],
 "edd":[
  {"g":"a","M":4.8,"L":42.9},{"g":"a","M":10.2,"L":48.3},
  {"g":"b","M":4.8,"L":41.9},{"g":"b","M":10.2,"L":47.3},
  {"g":"c","M":4.8,"L":40.9},{"g":"c","M":10.2,"L":46.3},
  {"g":"d","M":4.8,"L":39.9},{"g":"d","M":10.2,"L":45.3}
 ]
},
"resolve":{"axis":{"x":"independent","y":"independent"}},
"layer":[
 {"data":{"name":"contours"},"transform":[{"filter":"datum.s == 'Liu+19 (z<0.35)'"}],
  "mark":{"type":"line","strokeWidth":2,"clip":true},
  "encoding":{
   "x":{"field":"M","type":"quantitative","scale":{"domain":[4.8,10.2],"nice":false,"zero":false},
        "axis":{"orient":"bottom","title":"log 𝑀ʙʜ [𝑀⊙]","values":[5,6,7,8,9,10],"tickSize":-8,"tickWidth":2,"labelPadding":8,"titlePadding":8}},
   "y":{"field":"L","type":"quantitative","scale":{"domain":[41.8,48.2],"nice":false,"zero":false},
        "axis":{"orient":"left","title":"log 𝐿bol [erg s⁻¹]","values":[42,43,44,45,46,47,48],"tickSize":-8,"tickWidth":2,"labelPadding":6,"titlePadding":5}},
   "detail":{"field":"c"},
   "order":{"field":"o","type":"quantitative"},
   "stroke":{"field":"s","type":"nominal","title":null,
     "scale":{"domain":["HSC (z=6-7)","Shen+19 (z ∼ 6)","Willott+10 (z ∼ 6)","Trakhtenbrot+11 (z ∼ 4.8)","Greene & Ho 07 (z<0.35)","Liu+18 (z<0.3)","Shen+11 (z~1-2)","Liu+19 (z<0.35)"],
              "range":["#1f77b4","#1f77b4","#1f77b4","#2ca02c","black","black","#1f77b4","#7f7f7f"]},
     "legend":{"encode":{"symbols":{"update":{
        "size":{"signal":"datum.value == 'Shen+11 (z~1-2)' || datum.value == 'Liu+19 (z<0.35)' ? 900 : datum.value == 'Greene & Ho 07 (z<0.35)' ? 26 : datum.value == 'Shen+19 (z ∼ 6)' || datum.value == 'Liu+18 (z<0.3)' ? 100 : 75"},
        "strokeWidth":{"signal":"datum.value == 'Liu+18 (z<0.3)' ? 1.2 : datum.value == 'Greene & Ho 07 (z<0.35)' ? 0 : 2"}}}}}}
  }},
 {"data":{"name":"contours"},"transform":[{"filter":"datum.s == 'Shen+11 (z~1-2)'"}],
  "mark":{"type":"line","strokeWidth":2,"clip":true},
  "encoding":{
   "x":{"field":"M","type":"quantitative","axis":{"orient":"top","title":null,"labels":false,"values":[5,6,7,8,9,10],"tickSize":-8,"tickWidth":2}},
   "y":{"field":"L","type":"quantitative","axis":{"orient":"right","title":null,"labels":false,"values":[42,43,44,45,46,47,48],"tickSize":-8,"tickWidth":2}},
   "detail":{"field":"c"},
   "order":{"field":"o","type":"quantitative"},
   "stroke":{"field":"s","type":"nominal","title":null}
  }},
 {"data":{"name":"edd"},
  "mark":{"type":"line","strokeWidth":1.5,"strokeDash":[6,4],"color":"#808080","clip":true},
  "encoding":{
   "x":{"field":"M","type":"quantitative","axis":{"orient":"bottom","title":null,"labels":false,"values":[5.2,5.4,5.6,5.8,6.2,6.4,6.6,6.8,7.2,7.4,7.6,7.8,8.2,8.4,8.6,8.8,9.2,9.4,9.6,9.8],"tickSize":-4,"tickWidth":1}},
   "y":{"field":"L","type":"quantitative","axis":{"orient":"left","title":null,"labels":false,"values":[42.2,42.4,42.6,42.8,43.2,43.4,43.6,43.8,44.2,44.4,44.6,44.8,45.2,45.4,45.6,45.8,46.2,46.4,46.6,46.8,47.2,47.4,47.6,47.8],"tickSize":-4,"tickWidth":1}},
   "detail":{"field":"g"}
  }},
 {"data":{"values":[{"L":44.4}]},
  "mark":{"type":"rule","strokeWidth":12,"color":"#d62728"},
  "encoding":{
   "y":{"field":"L","type":"quantitative","axis":{"orient":"right","title":null,"labels":false,"values":[42.2,42.4,42.6,42.8,43.2,43.4,43.6,43.8,44.2,44.4,44.6,44.8,45.2,45.4,45.6,45.8,46.2,46.4,46.6,46.8,47.2,47.4,47.6,47.8],"tickSize":-4,"tickWidth":1}}
  }},
 {"data":{"values":[{"M":8.32,"L":44.09,"t":"This Work (z=5)"}]},
  "mark":{"type":"text","font":"Liberation Serif","fontSize":27,"color":"#d62728","align":"left","baseline":"middle"},
  "encoding":{
   "x":{"field":"M","type":"quantitative","axis":{"orient":"top","title":null,"labels":false,"values":[5.2,5.4,5.6,5.8,6.2,6.4,6.6,6.8,7.2,7.4,7.6,7.8,8.2,8.4,8.6,8.8,9.2,9.4,9.6,9.8],"tickSize":-4,"tickWidth":1}},
   "y":{"field":"L","type":"quantitative","axis":null},
   "text":{"field":"t"}
  }},
 {"data":{"name":"pts"},"transform":[{"filter":"datum.s == 'Greene & Ho 07 (z<0.35)'"}],
  "mark":{"type":"point","strokeWidth":0,"opacity":1,"size":28},
  "encoding":{
   "x":{"field":"M","type":"quantitative","axis":null},
   "y":{"field":"L","type":"quantitative","axis":null},
   "stroke":{"field":"s","type":"nominal","title":null},
   "fill":{"field":"s","type":"nominal","title":null,"scale":{"domain":["HSC (z=6-7)","Shen+19 (z ∼ 6)","Willott+10 (z ∼ 6)","Trakhtenbrot+11 (z ∼ 4.8)","Greene & Ho 07 (z<0.35)","Liu+18 (z<0.3)","Shen+11 (z~1-2)","Liu+19 (z<0.35)"],"range":["transparent","transparent","transparent","#2ca02c","black","transparent","transparent","transparent"]}},
   "shape":{"field":"s","type":"nominal","title":null,"scale":{"domain":["HSC (z=6-7)","Shen+19 (z ∼ 6)","Willott+10 (z ∼ 6)","Trakhtenbrot+11 (z ∼ 4.8)","Greene & Ho 07 (z<0.35)","Liu+18 (z<0.3)","Shen+11 (z~1-2)","Liu+19 (z<0.35)"],"range":["circle","diamond","triangle-up","square","circle","M-1,-1L1,1M1,-1L-1,1","stroke","stroke"]}}
  }},
 {"data":{"name":"pts"},"transform":[{"filter":"datum.s == 'Liu+18 (z<0.3)'"}],
  "mark":{"type":"point","strokeWidth":1,"opacity":1,"size":100},
  "encoding":{
   "x":{"field":"M","type":"quantitative","axis":null},
   "y":{"field":"L","type":"quantitative","axis":null},
   "stroke":{"field":"s","type":"nominal","title":null},
   "fill":{"field":"s","type":"nominal","title":null},
   "shape":{"field":"s","type":"nominal","title":null}
  }},
 {"data":{"name":"pts"},"transform":[{"filter":"datum.s == 'HSC (z=6-7)'"}],
  "mark":{"type":"point","strokeWidth":2,"opacity":1,"size":64},
  "encoding":{
   "x":{"field":"M","type":"quantitative","axis":null},
   "y":{"field":"L","type":"quantitative","axis":null},
   "stroke":{"field":"s","type":"nominal","title":null},
   "fill":{"field":"s","type":"nominal","title":null},
   "shape":{"field":"s","type":"nominal","title":null}
  }},
 {"data":{"name":"pts"},"transform":[{"filter":"datum.s == 'Shen+19 (z ∼ 6)'"}],
  "mark":{"type":"point","strokeWidth":2,"opacity":1,"size":100},
  "encoding":{
   "x":{"field":"M","type":"quantitative","axis":null},
   "y":{"field":"L","type":"quantitative","axis":null},
   "stroke":{"field":"s","type":"nominal","title":null},
   "fill":{"field":"s","type":"nominal","title":null},
   "shape":{"field":"s","type":"nominal","title":null}
  }},
 {"data":{"name":"pts"},"transform":[{"filter":"datum.s == 'Willott+10 (z ∼ 6)'"}],
  "mark":{"type":"point","strokeWidth":2,"opacity":1,"size":70},
  "encoding":{
   "x":{"field":"M","type":"quantitative","axis":null},
   "y":{"field":"L","type":"quantitative","axis":null},
   "stroke":{"field":"s","type":"nominal","title":null},
   "fill":{"field":"s","type":"nominal","title":null},
   "shape":{"field":"s","type":"nominal","title":null}
  }},
 {"data":{"name":"pts"},"transform":[{"filter":"datum.s == 'Trakhtenbrot+11 (z ∼ 4.8)'"}],
  "mark":{"type":"point","strokeWidth":2,"opacity":1,"size":70},
  "encoding":{
   "x":{"field":"M","type":"quantitative","axis":null},
   "y":{"field":"L","type":"quantitative","axis":null},
   "stroke":{"field":"s","type":"nominal","title":null},
   "fill":{"field":"s","type":"nominal","title":null},
   "shape":{"field":"s","type":"nominal","title":null}
  }}
]
}
